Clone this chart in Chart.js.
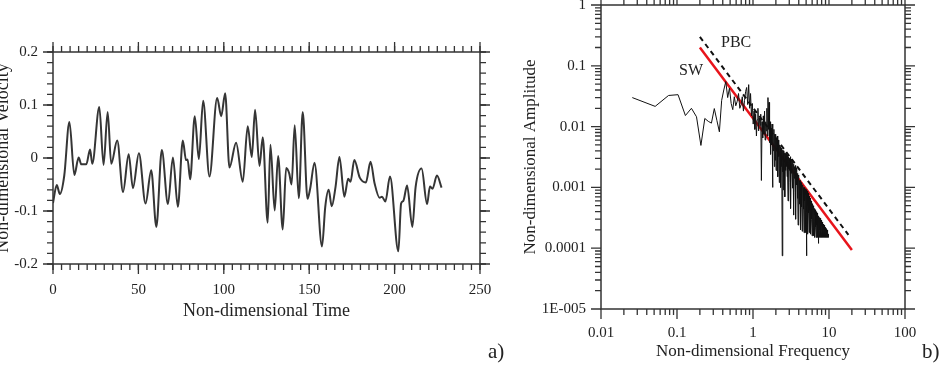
<!DOCTYPE html>
<html>
<head>
<meta charset="utf-8">
<script src="https://cdn.jsdelivr.net/npm/chart.js@4.4.0/dist/chart.umd.min.js"></script>
<style>
  html, body { margin: 0; padding: 0; background: #fff; }
  body { width: 939px; height: 366px; position: relative; overflow: hidden; }
  #velocityChart { position: absolute; left: -8px; top: 0; }
  #spectrumChart { position: absolute; left: 500px; top: 0; }
  .panel-tag { position: absolute; top: 339px; font: 21px 'Liberation Serif', 'Times New Roman', serif; color: #222; }
</style>
</head>
<body>
<canvas id="velocityChart" width="508" height="366"></canvas>
<canvas id="spectrumChart" width="439" height="366"></canvas>
<div class="panel-tag" style="left:488px">a)</div>
<div class="panel-tag" style="left:922px">b)</div>
<script>
// (a) time series - local extrema
const timeValues = [0, 2.2, 4.0, 6.6, 9.6, 12.5, 15.0, 16.6, 19.5, 21.7, 23.0, 27.1, 29.6, 32.0, 34.1, 37.6,
  41.0, 44.3, 46.8, 50.3, 54.2, 57.5, 60.5, 63.7, 67.3, 70.2, 73.1, 76.0, 77.9, 78.8, 80.3, 83.0, 85.4,
  87.9, 91.6, 96.1, 98.5, 100.8, 103.3, 107.2, 111.1, 114.0, 116.4, 118.3, 120.9, 122.8, 125.7, 127.3,
  129.8, 131.8, 134.5, 136.5, 138.3, 139.7, 141.5, 143.9, 146.2, 149.0, 150.6, 153.1, 157.5, 159.4,
  161.4, 163.2, 165.4, 167.7, 170.6, 172.8, 174.2, 176.4, 179.6, 183.2, 185.9, 188.3, 191.2, 192.6,
  194.6, 197.3, 202.2, 203.8, 205.1, 207.3, 210.4, 212.3, 215.8, 219.0, 220.7, 222.2, 224.8, 227.5];
const velocityValues = [-0.085, -0.051, -0.068, -0.033, 0.068, -0.032, 0.001, -0.012, -0.012, 0.016, -0.011,
  0.096, -0.013, 0.087, -0.011, 0.033, -0.064, 0.007, -0.057, 0.009, -0.086, -0.023, -0.130, 0.015,
  -0.087, 0.001, -0.092, 0.033, -0.004, -0.003, -0.040, 0.079, -0.002, 0.108, -0.035, 0.113, 0.079,
  0.122, -0.018, 0.029, -0.045, 0.060, 0.002, 0.091, -0.015, 0.039, -0.122, 0.025, -0.099, 0.004,
  -0.135, -0.019, -0.029, -0.050, 0.062, -0.076, 0.087, -0.077, -0.057, -0.009, -0.167, -0.092,
  -0.060, -0.091, -0.055, 0.002, -0.073, -0.039, -0.045, -0.004, -0.037, -0.046, -0.007, -0.048,
  -0.075, -0.073, -0.082, -0.035, -0.176, -0.086, -0.081, -0.052, -0.130, -0.055, -0.020, -0.087,
  -0.054, -0.058, -0.033, -0.056];
const timeTicks = [0, 50, 100, 150, 200, 250];
const velocityTicks = [-0.2, -0.1, 0, 0.1, 0.2];
const velocityTickLabels = ['-0.2', '-0.1', '0', '0.1', '0.2'];

// (b) amplitude spectrum, one value per frequency bin (bin width freqStep)
const freqStep = 0.0258;
const amplitudeValues = [
  0.030, 0.0215, 0.0325, 0.0335, 0.0152, 0.0200, 0.0145, 0.0049, 0.0136, 0.0122,
  0.0114, 0.0198, 0.0125, 0.0082, 0.0270, 0.0400, 0.0550, 0.0300, 0.0430, 0.0240,
  0.0190, 0.0310, 0.0220, 0.0260, 0.0350, 0.0200, 0.0230, 0.0310, 0.0180, 0.0270,
  0.0380, 0.0440, 0.0230, 0.0490, 0.0200, 0.0350, 0.0150, 0.0240, 0.0110, 0.0180,
  0.0090, 0.0160, 0.0070, 0.0130, 0.0200, 0.0085, 0.0140, 0.0105, 0.0160, 0.0013,
  0.0120, 0.0065, 0.0150, 0.0075, 0.0180, 0.0060, 0.0120, 0.0085, 0.0200, 0.0070,
  0.0300, 0.0090, 0.0250, 0.0055, 0.0120, 0.0035, 0.0095, 0.0050, 0.0110, 0.0010,
  0.0080, 0.0040, 0.0090, 0.0022, 0.0075, 0.0028, 0.0075, 0.0019, 0.0065, 0.0040,
  0.0070, 0.0015, 0.0060, 0.0032, 0.0055, 0.0012, 0.0050, 0.0028, 0.0047, 0.0010,
  0.0044, 0.0022, 0.0042, 0.000075, 0.0041, 0.0018, 0.0040, 0.0009, 0.0038, 0.0021,
  0.0037, 0.0007, 0.0036, 0.0019, 0.0035,
  0.0036, 0.0022, 0.0031, 0.0015, 0.0034, 0.0018, 0.0006, 0.0027, 0.0032, 0.0020,
  0.0030, 0.0019, 0.0027, 0.0012, 0.0032, 0.0016, 0.00045, 0.0024, 0.0029, 0.0017,
  0.0026, 0.0016, 0.0023, 0.00097, 0.0027, 0.0014, 0.00035, 0.0020, 0.0024, 0.0015,
  0.0022, 0.0014, 0.0019, 0.00083, 0.0023, 0.0012, 0.0003, 0.0017, 0.0021, 0.0013,
  0.0018, 0.0011, 0.0015, 0.00066, 0.0017, 0.0009, 0.00024, 0.0014, 0.0016, 0.0010,
  0.0014, 0.00085, 0.0012, 0.00053, 0.0013, 0.0007, 0.0002, 0.0011, 0.0013, 0.00075,
  0.0012, 0.00072, 0.0010, 0.00048, 0.0011, 0.0006, 0.00019, 0.0009, 0.0011, 0.00065,
  0.0011, 0.00066, 0.00094, 0.00044, 0.0010, 0.00055, 0.00018, 0.00083, 0.00099, 0.0006,
  0.0010, 0.0006, 0.00085, 0.00042, 0.00095, 0.0005, 0.00018, 0.00075, 0.0009, 0.00055,
  0.00092, 0.00055, 0.000075, 0.0004, 0.00087, 0.00046, 0.00017, 0.00069, 0.00083, 0.0005,
  0.0008, 0.00048, 0.00068, 0.00038, 0.00076, 0.0004, 0.00018, 0.0006, 0.00072, 0.00044,
  0.0007, 0.00042, 0.0006, 0.00034, 0.00067, 0.00035, 0.00017, 0.00053, 0.00063, 0.00039,
  0.0006, 0.00036, 0.00051, 0.00031, 0.00057, 0.0003, 0.00016, 0.00045, 0.00054, 0.00033,
  0.00053, 0.00032, 0.00045, 0.00029, 0.0005, 0.00027, 0.00016, 0.0004, 0.00048, 0.00029,
  0.00047, 0.00028, 0.0004, 0.00027, 0.00045, 0.00024, 0.00015, 0.00035, 0.00042, 0.00026,
  0.00043, 0.00026, 0.00037, 0.00025, 0.00041, 0.00022, 0.00015, 0.00032, 0.00039, 0.00024,
  0.0004, 0.00024, 0.00034, 0.00024, 0.00038, 0.00021, 0.00015, 0.0003, 0.00036, 0.00023,
  0.00037, 0.00023, 0.00031, 0.00023, 0.00012, 0.0002, 0.00015, 0.00028, 0.00033, 0.00022,
  0.00034, 0.00021, 0.00029, 0.00022, 0.00032, 0.00019, 0.00015, 0.00026, 0.00031, 0.0002,
  0.00031, 0.0002, 0.00027, 0.00021, 0.0003, 0.00018, 0.00015, 0.00024, 0.00029, 0.00019,
  0.00029, 0.00019, 0.00025, 0.0002, 0.00028, 0.00018, 0.00015, 0.00023, 0.00027, 0.00019,
  0.00027, 0.00018, 0.00024, 0.00019, 0.00026, 0.00017, 0.00015, 0.00022, 0.00025, 0.00018,
  0.00025, 0.00018, 0.00022, 0.00018, 0.00024, 0.00017, 0.00015, 0.00021, 0.00023, 0.00018,
  0.00024, 0.00017, 0.00021, 0.00018, 0.00023, 0.00016, 0.00015, 0.0002, 0.00022, 0.00017,
  0.00022, 0.00017, 0.0002, 0.00017, 0.00021, 0.00016, 0.00015, 0.00019, 0.0002, 0.00017,
  0.00021, 0.00016, 0.00019, 0.00017, 0.0002, 0.00016, 0.00015, 0.00018, 0.00019, 0.00016,
  0.0002, 0.00016, 0.00018, 0.00016, 0.00019, 0.00016, 0.00015, 0.00017, 0.00018, 0.00016,
  0.00018, 0.00016, 0.00017, 0.00016, 0.00017, 0.00015, 0.00016, 0.000155
];
const swLineFreq = [0.2, 20];
const swLineAmp = [0.2, 0.000093];
const pbcLineFreq = [0.2, 18];
const pbcLineAmp = [0.3, 0.000166];
const annotationLabels = ['SW', 'PBC'];
const annotationFreq = [0.153, 0.60];
const annotationAmp = [0.083, 0.24];
const freqTicks = [0.01, 0.1, 1, 10, 100];
const freqTickLabels = ['0.01', '0.1', '1', '10', '100'];
const ampTicks = [1e-5, 1e-4, 1e-3, 1e-2, 1e-1, 1];
const ampTickLabels = ['1E-005', '0.0001', '0.001', '0.01', '0.1', '1'];

Chart.defaults.font.family = "'Liberation Serif', 'Times New Roman', serif";
Chart.defaults.color = '#222';

// minor tick positions
function linearMinors(min, max, step) {
  const out = [];
  for (let v = min; v <= max + step / 2; v += step) out.push(+v.toFixed(6));
  return out;
}
function logMinors(decades) {
  const out = [];
  decades.forEach(d => { for (let k = 2; k <= 9; k++) out.push(d * k); });
  return out;
}

// fixed axis size, no extra room for label overhang
function fixSize(prop, size) {
  return s => {
    s[prop] = size;
    s.paddingLeft = s.paddingRight = s.paddingTop = s.paddingBottom = 0;
  };
}

// box around the plot + outward ticks on all four sides
const frameTicks = {
  id: 'frameTicks',
  afterDraw(chart, args, opts) {
    const { ctx, chartArea: a } = chart;
    const xs = chart.scales.x, ys = chart.scales.y;
    ctx.save();
    ctx.strokeStyle = '#333';
    ctx.lineWidth = 1.5;
    ctx.strokeRect(a.left, a.top, a.right - a.left, a.bottom - a.top);
    ctx.lineWidth = 1.3;
    const tickX = (vals, len) => vals.forEach(v => {
      const px = xs.getPixelForValue(v);
      if (px < a.left - 0.5 || px > a.right + 0.5) return;
      ctx.beginPath();
      ctx.moveTo(px, a.top); ctx.lineTo(px, a.top - len);
      ctx.moveTo(px, a.bottom); ctx.lineTo(px, a.bottom + len);
      ctx.stroke();
    });
    const tickY = (vals, len) => vals.forEach(v => {
      const py = ys.getPixelForValue(v);
      if (py < a.top - 0.5 || py > a.bottom + 0.5) return;
      ctx.beginPath();
      ctx.moveTo(a.left, py); ctx.lineTo(a.left - len, py);
      ctx.moveTo(a.right, py); ctx.lineTo(a.right + len, py);
      ctx.stroke();
    });
    tickX(opts.minorX, 6);
    tickX(opts.majorX, 10);
    tickY(opts.minorY, 6);
    tickY(opts.majorY, 10);
    ctx.restore();
  }
};

// SW / PBC labels placed in data coordinates
const lineLabels = {
  id: 'lineLabels',
  afterDatasetsDraw(chart) {
    if (chart.canvas.id !== 'spectrumChart') return;
    const { ctx } = chart;
    ctx.save();
    ctx.font = "16px 'Liberation Serif', 'Times New Roman', serif";
    ctx.fillStyle = '#222';
    ctx.textAlign = 'center';
    ctx.textBaseline = 'middle';
    annotationLabels.forEach((t, i) => {
      ctx.fillText(t, chart.scales.x.getPixelForValue(annotationFreq[i]),
        chart.scales.y.getPixelForValue(annotationAmp[i]));
    });
    ctx.restore();
  }
};

const velocityChart = new Chart(document.getElementById('velocityChart'), {
  type: 'line',
  data: {
    datasets: [{
      data: timeValues.map((t, i) => ({ x: t, y: velocityValues[i] })),
      borderColor: '#353535',
      borderWidth: 2,
      pointRadius: 0,
      cubicInterpolationMode: 'monotone'
    }]
  },
  options: {
    responsive: false,
    animation: false,
    devicePixelRatio: 1,
    layout: { padding: { left: 0, top: 52, right: 20, bottom: 0 } },
    plugins: {
      legend: { display: false },
      tooltip: { enabled: false },
      frameTicks: {
        majorX: timeTicks, minorX: linearMinors(0, 250, 5),
        majorY: velocityTicks, minorY: linearMinors(-0.2, 0.2, 0.02)
      }
    },
    scales: {
      x: {
        type: 'linear', min: 0, max: 250,
        grid: { display: false, drawTicks: false },
        border: { display: false },
        afterBuildTicks: s => { s.ticks = timeTicks.map(v => ({ value: v })); },
        afterFit: fixSize('height', 102),
        ticks: { padding: 17, font: { size: 15 }, maxRotation: 0, autoSkip: false },
        title: { display: true, text: 'Non-dimensional Time', font: { size: 18 }, padding: { top: 0, bottom: 44 } }
      },
      y: {
        type: 'linear', min: -0.2, max: 0.2,
        grid: { display: false, drawTicks: false },
        border: { display: false },
        afterBuildTicks: s => { s.ticks = velocityTicks.map(v => ({ value: v })); },
        afterFit: fixSize('width', 61),
        ticks: { padding: 15, font: { size: 15 }, autoSkip: false, callback: (v, i) => velocityTickLabels[i] },
        title: { display: true, text: 'Non-dimensional Velocity', font: { size: 18 }, padding: { top: 0, bottom: 0 } }
      }
    }
  },
  plugins: [frameTicks]
});

const spectrumChart = new Chart(document.getElementById('spectrumChart'), {
  type: 'line',
  data: {
    datasets: [{
      data: amplitudeValues.map((a, i) => ({ x: (i + 1) * freqStep, y: a })),
      borderColor: '#111',
      borderWidth: 1,
      pointRadius: 0,
      tension: 0
    }, {
      data: swLineFreq.map((f, i) => ({ x: f, y: swLineAmp[i] })),
      borderColor: '#e8141b',
      borderWidth: 2.5,
      pointRadius: 0
    }, {
      data: pbcLineFreq.map((f, i) => ({ x: f, y: pbcLineAmp[i] })),
      borderColor: '#111',
      borderWidth: 2,
      borderDash: [5, 4],
      pointRadius: 0
    }]
  },
  options: {
    responsive: false,
    animation: false,
    devicePixelRatio: 1,
    layout: { padding: { left: 0, top: 5, right: 34, bottom: 0 } },
    plugins: {
      legend: { display: false },
      tooltip: { enabled: false },
      frameTicks: {
        majorX: freqTicks, minorX: logMinors([0.01, 0.1, 1, 10]),
        majorY: ampTicks, minorY: logMinors([1e-5, 1e-4, 1e-3, 1e-2, 1e-1])
      }
    },
    scales: {
      x: {
        type: 'logarithmic', min: 0.01, max: 100,
        grid: { display: false, drawTicks: false },
        border: { display: false },
        afterBuildTicks: s => { s.ticks = freqTicks.map(v => ({ value: v })); },
        afterFit: fixSize('height', 57),
        ticks: { padding: 15, font: { size: 15 }, maxRotation: 0, autoSkip: false, callback: (v, i) => freqTickLabels[i] },
        title: { display: true, text: 'Non-dimensional Frequency', font: { size: 17 }, padding: { top: 0, bottom: 4 } }
      },
      y: {
        type: 'logarithmic', min: 1e-5, max: 1,
        grid: { display: false, drawTicks: false },
        border: { display: false },
        afterBuildTicks: s => { s.ticks = ampTicks.map(v => ({ value: v })); },
        afterFit: fixSize('width', 101),
        ticks: { padding: 15, font: { size: 15 }, autoSkip: false, callback: (v, i) => ampTickLabels[i] },
        title: { display: true, text: 'Non-dimensional Amplitude', font: { size: 17 }, padding: { top: 20, bottom: 0 } }
      }
    }
  },
  plugins: [frameTicks, lineLabels]
});
</script>
</body>
</html>
